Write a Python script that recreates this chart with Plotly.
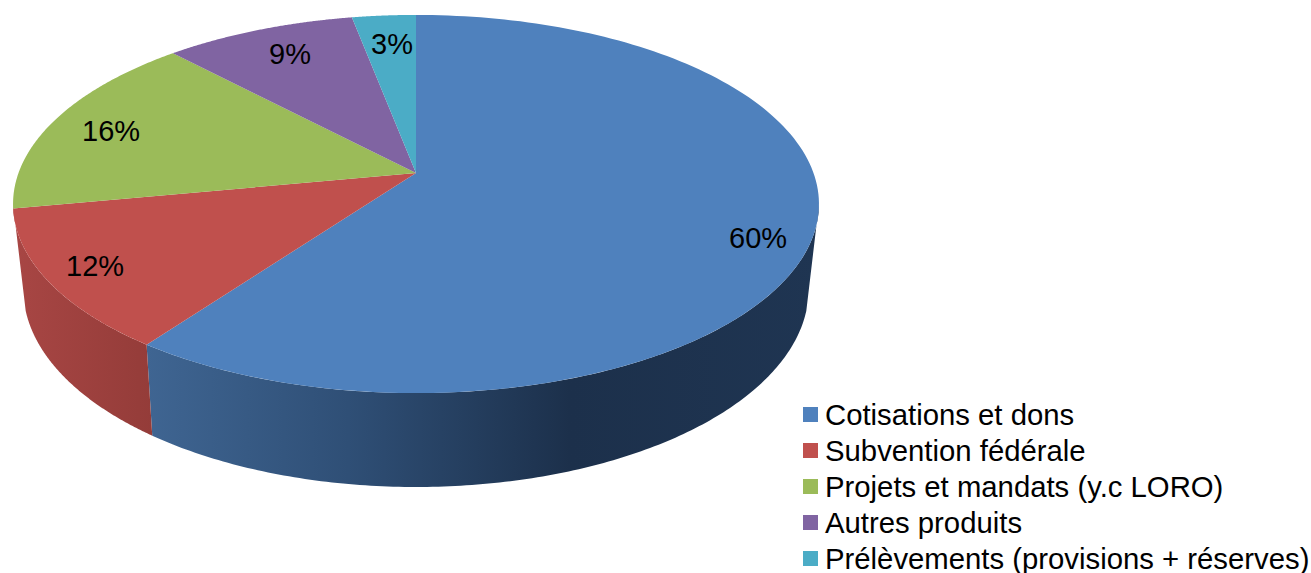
import numpy as np
import plotly.graph_objects as go

categories = ["Cotisations et dons", "Subvention fédérale", "Projets et mandats (y.c LORO)",
              "Autres produits", "Prélèvements (provisions + réserves)"]
values = [60, 12, 16, 9, 3]
colors = ["#4F81BD", "#C0504D", "#9BBB59", "#8064A2", "#4BACC6"]

W, H = 1311, 573
CX = 416
TOP = dict(y0=173, a=397.5, b=184, k=0.164)
BOT = dict(y0=255.3, a=387, b=192.3, k=0.17)
LABEL_XY = [(758, 238), (95, 266), (111, 131), (290, 54), (392, 44)]
SIL_TOP, SIL_BOT = 99.5, 106
FONT = "Liberation Sans"
FS = 29
FS_LEG = 29.3
LEG_X, LEG_TX, LEG_Y0, LEG_DY = 810.5, 823, 414.5, 36


def proj(deg, g, r=1.0):
    t = np.radians(deg)
    u, v = r * np.sin(t), r * np.cos(t)
    d = 1 + g["k"] * v
    return CX + g["a"] * u / d, g["y0"] - g["b"] * v / d


edges = np.concatenate([[0], np.cumsum(values)]) * 3.6
fig = go.Figure()

# outer wall of the slices (drawn first; the top face covers the rest)
side_specs = [
    (SIL_TOP, SIL_BOT, edges[1], edges[1],
     [[0, "#3F6592"], [0.3, "#2F4F76"], [0.63, "#1C304B"], [1, "#1F3552"]]),
    (edges[1], edges[1], 360 - SIL_TOP, 360 - SIL_BOT, [[0, "#A84644"], [1, "#943C39"]]),
]
for at0, ab0, at1, ab1, scale in side_specs:
    xt, yt = proj(np.linspace(at0, at1, 160), TOP)
    xb, yb = proj(np.linspace(ab1, ab0, 160), BOT)
    fig.add_trace(go.Scatter(
        x=np.r_[xt, xb], y=np.r_[yt, yb], mode="none", fill="toself",
        fillgradient=dict(type="horizontal", colorscale=scale),
        showlegend=False, hoverinfo="skip"))

# top faces
for i, cat in enumerate(categories):
    th = np.linspace(edges[i], edges[i + 1], 160)
    xt, yt = proj(th, TOP)
    fig.add_trace(go.Scatter(
        x=np.r_[CX, xt, CX], y=np.r_[TOP["y0"], yt, TOP["y0"]], mode="none", fill="toself",
        fillcolor=colors[i], showlegend=False, name=cat, hoverinfo="name"))

# legend swatches (a native legend cannot keep this tight row pitch at this font size)
rows = [LEG_Y0 + LEG_DY * i for i in range(len(categories))]
fig.add_trace(go.Scatter(
    x=[LEG_X] * len(rows), y=rows, mode="markers", showlegend=False, hoverinfo="skip",
    marker=dict(symbol="square", size=15, color=colors, line=dict(width=0))))

font = dict(family=FONT, size=FS, color="black")
font_leg = dict(family=FONT, size=FS_LEG, color="black")
annotations = [
    dict(x=x, y=y, text=f"{v}%", showarrow=False, xanchor="center", yanchor="middle", font=font)
    for (x, y), v in zip(LABEL_XY, values)
] + [
    dict(x=LEG_TX, y=y, text=cat, showarrow=False, xanchor="left", yanchor="middle", font=font_leg)
    for y, cat in zip(rows, categories)
]

fig.update_layout(
    width=W, height=H, margin=dict(l=0, r=0, t=0, b=0),
    paper_bgcolor="white", plot_bgcolor="white",
    xaxis=dict(range=[0, W], visible=False, fixedrange=True),
    yaxis=dict(range=[H, 0], visible=False, fixedrange=True),
    annotations=annotations,
    showlegend=False,
)
fig.write_html("out.html", config=dict(displayModeBar=False),
               post_script="document.body.style.margin='0';document.body.style.overflow='hidden';")
